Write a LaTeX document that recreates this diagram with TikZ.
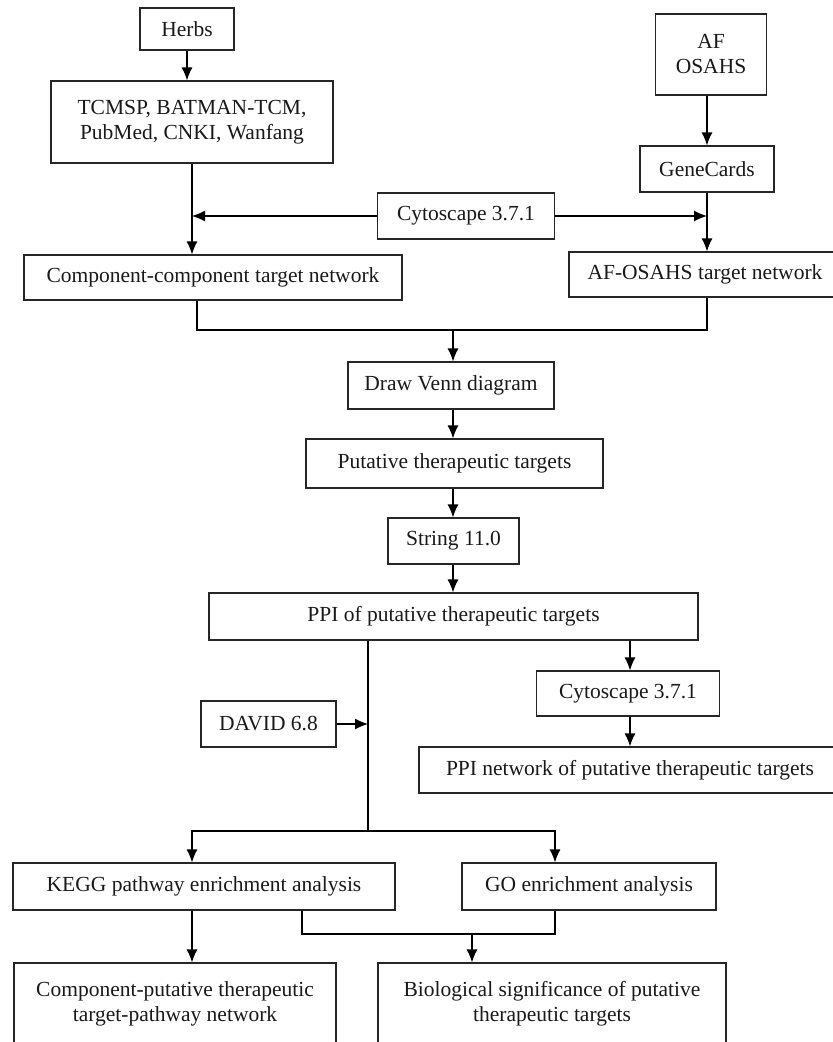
\documentclass[tikz,border=0pt]{standalone}
\usepackage{fontspec}
\setmainfont{Liberation Serif}
\usetikzlibrary{arrows.meta}

\begin{document}
\begin{tikzpicture}[->,>={Latex[length=13pt,width=11pt]},x=1pt,y=-1pt,line width=1.2pt,
                    font=\fontsize{21.5}{25}\selectfont]
  \tikzstyle{box}=[draw=black!85,text=black!90,align=center,inner sep=0,line width=1.2pt]
  \useasboundingbox (0,0) rectangle (833,1042);

  \node[box,minimum width=94pt,minimum height=42pt]  (herbs)     at (187,29)     {Herbs};
  \node[box,minimum width=282pt,minimum height=82pt] (dbs)       at (192,122)    {TCMSP, BATMAN-TCM,\\PubMed, CNKI, Wanfang};
  \node[box,minimum width=111pt,minimum height=81pt] (afosahs)   at (711,54.5)   {AF\\OSAHS};
  \node[box,minimum width=134pt,minimum height=46pt] (genecards) at (707,169)    {GeneCards};
  \node[box,minimum width=177pt,minimum height=46pt] (cytoA)     at (466,216)    {Cytoscape 3.7.1};
  \node[box,minimum width=378pt,minimum height=45pt] (ccnet)     at (213,277.5)  {Component-component target network};
  \node[box,minimum width=272pt,minimum height=45pt] (afnet)     at (705,274.5)  {AF-OSAHS target network};
  \node[box,minimum width=206pt,minimum height=47pt] (venn)      at (451,385.5)  {Draw Venn diagram};
  \node[box,minimum width=297pt,minimum height=49pt] (putative)  at (454.5,463.5){Putative therapeutic targets};
  \node[box,minimum width=131pt,minimum height=46pt] (string)    at (453.5,541)  {String 11.0};
  \node[box,minimum width=489pt,minimum height=47pt] (ppi)       at (453.5,616.5){PPI of putative therapeutic targets};
  \node[box,minimum width=183pt,minimum height=45pt] (cytoB)     at (628,693.5)  {Cytoscape 3.7.1};
  \node[box,minimum width=135pt,minimum height=46pt] (david)     at (268.5,724)  {DAVID 6.8};
  \node[box,minimum width=422pt,minimum height=46pt] (ppinet)    at (630,770)    {PPI network of putative therapeutic targets};
  \node[box,minimum width=382pt,minimum height=47pt] (kegg)      at (204,886.5)  {KEGG pathway enrichment analysis};
  \node[box,minimum width=254pt,minimum height=47pt] (go)        at (589,886.5)  {GO enrichment analysis};
  \node[box,minimum width=322pt,minimum height=82pt] (cptp)      at (175,1004)   {Component-putative therapeutic\\target-pathway network};
  \node[box,minimum width=348pt,minimum height=82pt] (bio)       at (552,1004)   {Biological significance of putative\\therapeutic targets};

  \coordinate (j1) at (453,330);
  \coordinate (j2) at (368,831);
  \coordinate (j3) at (472,934);

  \path (herbs.south) edge (herbs.south |- dbs.north);
  \path (dbs.south) edge (dbs.south |- ccnet.north);
  \path (afosahs.south -| genecards) edge (genecards.north);
  \path (genecards.south) edge (genecards.south |- afnet.north);
  \path (cytoA.west) edge (cytoA.west -| dbs.south);
  \path (cytoA.east) edge (cytoA.east -| genecards.south);
  \draw[-] ([xshift=5pt]ccnet.south -| dbs) |- (j1) -| (afnet.south -| genecards);
  \path (j1) edge (j1 |- venn.north);
  \path (venn.south -| j1) edge (j1 |- putative.north);
  \path (putative.south -| j1) edge (j1 |- string.north);
  \path (string.south -| j1) edge (j1 |- ppi.north);
  \draw[-] (ppi.south -| j2) -- (j2);
  \path (david.east) edge (david.east -| j2);
  \path (ppi.south -| ppinet) edge (ppinet.north |- cytoB.north);
  \path (cytoB.south -| ppinet) edge (ppinet.north);
  \draw (j2) -| ([xshift=-12pt]kegg.north);
  \draw (j2) -| ([xshift=-34pt]go.north);
  \path ([xshift=-12pt]kegg.south) edge ([xshift=-12pt]kegg.south |- cptp.north);
  \draw[-] ([xshift=98pt]kegg.south) |- (j3) -| ([xshift=-34pt]go.south);
  \path (j3) edge (j3 |- bio.north);
\end{tikzpicture}
\end{document}
